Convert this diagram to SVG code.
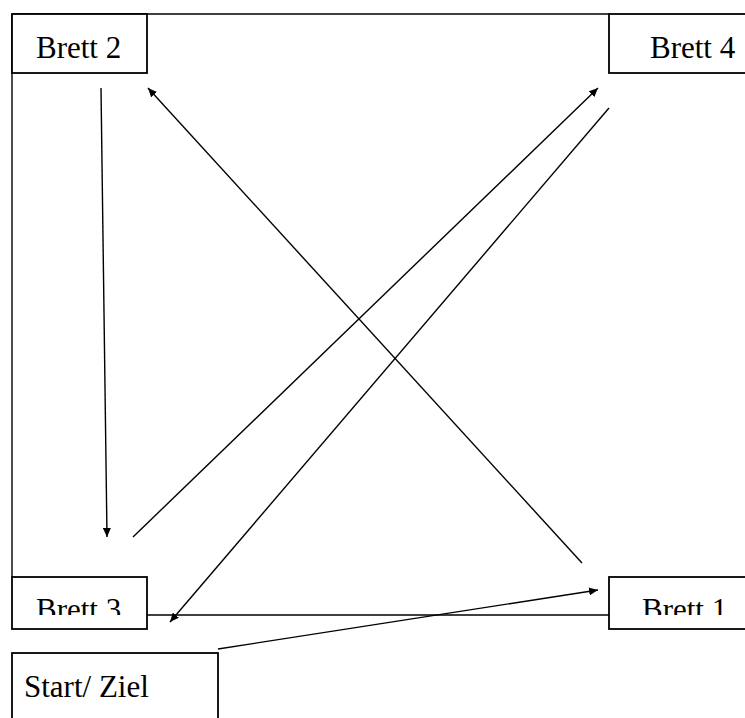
<svg xmlns="http://www.w3.org/2000/svg" width="745" height="718" viewBox="0 0 745 718">
<style>
.box{fill:#fff;stroke:#000;stroke-width:1.8}
.lbl{font-family:"Liberation Serif","Times New Roman",serif;font-size:31px;fill:#000}
.ln{stroke:#000;stroke-width:1.4;fill:none}
.arr{stroke:#000;stroke-width:1.4;fill:none;marker-end:url(#ah)}
</style>
<defs>
<marker id="ah" viewBox="0 0 9 8" refX="9" refY="4" markerWidth="9" markerHeight="8" markerUnits="userSpaceOnUse" orient="auto">
<path d="M0,0 L9,4 L0,8 Z" fill="#000"/>
</marker>
<clipPath id="clipB"><rect x="0" y="560" width="745" height="55"/></clipPath>
</defs>
<rect width="745" height="718" fill="#fff"/>
<g id="frame">
<line class="ln" x1="12" y1="14" x2="609" y2="14"/>
<line class="ln" x1="12" y1="14" x2="12" y2="577"/>
</g>
<g id="connectors">
<line class="ln" x1="147" y1="615" x2="609" y2="615"/>
<line class="arr" x1="101" y1="88" x2="107" y2="537"/>
<line class="arr" x1="582" y1="563" x2="148" y2="88"/>
<line class="arr" x1="133" y1="537" x2="598" y2="88"/>
<line class="arr" x1="609" y1="108" x2="170" y2="622"/>
<line class="arr" x1="218" y1="649" x2="598" y2="590"/>
</g>
<g id="brett2">
<rect class="box" x="12" y="14" width="135" height="59"/>
<text class="lbl" x="36" y="58">Brett 2</text>
</g>
<g id="brett4">
<rect class="box" x="609" y="14" width="150" height="59"/>
<text class="lbl" x="650" y="58">Brett 4</text>
</g>
<g id="brett3">
<rect class="box" x="12" y="577" width="135" height="52"/>
<text class="lbl" x="36" y="620" clip-path="url(#clipB)">Brett 3</text>
</g>
<g id="brett1">
<rect class="box" x="609" y="577" width="150" height="52"/>
<text class="lbl" x="642" y="620" clip-path="url(#clipB)">Brett 1</text>
</g>
<g id="start">
<rect class="box" x="12" y="653" width="206" height="80"/>
<text class="lbl" x="24" y="697">Start/ Ziel</text>
</g>
</svg>
